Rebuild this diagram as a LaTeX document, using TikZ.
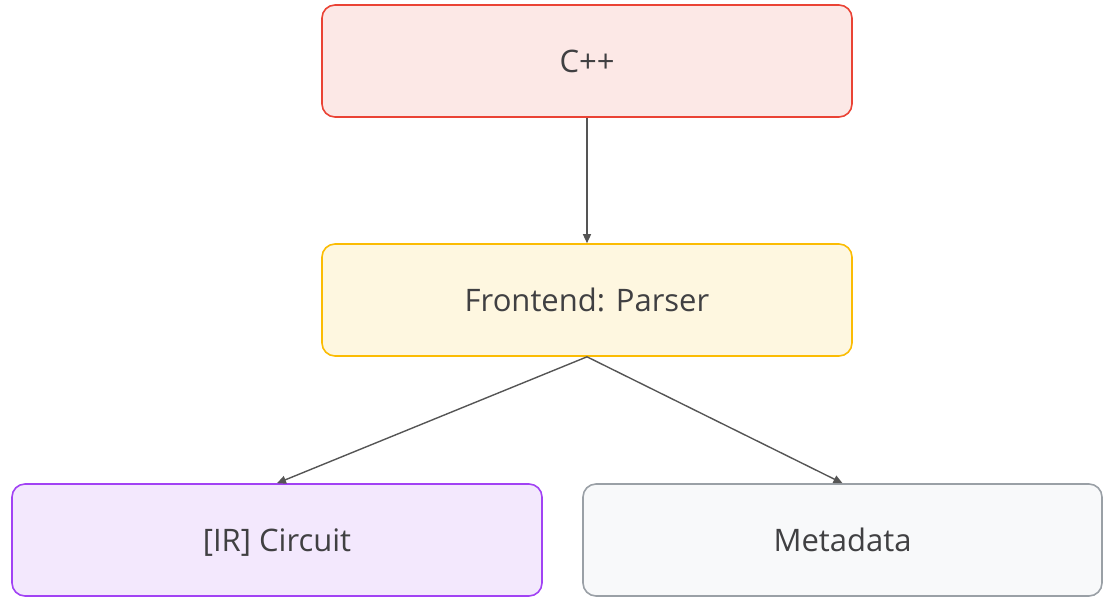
\documentclass[tikz,border=0pt]{standalone}
\usepackage{fontspec}
\setmainfont{Open Sans}
\usepackage{xcolor}
\usetikzlibrary{arrows.meta,positioning}
\definecolor{figline}{RGB}{85,85,85}
\definecolor{figtext}{RGB}{64,64,66}
\definecolor{cppdraw}{RGB}{234,67,53}
\definecolor{cppfill}{RGB}{252,232,230}
\definecolor{prsdraw}{RGB}{251,188,4}
\definecolor{prsfill}{RGB}{254,247,224}
\definecolor{irdraw}{RGB}{161,66,244}
\definecolor{irfill}{RGB}{243,232,253}
\definecolor{metadraw}{RGB}{154,160,166}
\definecolor{metafill}{RGB}{248,249,250}
\tikzset{
  blk/.style ={line width=1.6pt, rounded corners=13pt, minimum width=530pt, minimum height=112pt,
               inner sep=0pt, text height=23pt, text depth=1pt, text=figtext, font=\fontsize{31}{36}\selectfont},
  ptr/.style ={draw=figline, line width=1.4pt, -{Triangle[length=9pt,width=8pt]}},
}

\begin{document}
\begin{tikzpicture}[x=1pt,y=-1pt]
  \useasboundingbox (0,0) rectangle (1105,598);
  \node[blk,draw=cppdraw,fill=cppfill] (cpp) at (587,61) {C++};
  \node[blk,draw=prsdraw,fill=prsfill] (parser) at (587,300) {Frontend: Parser};
  \node[blk,draw=irdraw,fill=irfill] (circuit) at (277,540) {[IR] Circuit};
  \node[blk,draw=metadraw,fill=metafill,minimum width=519pt] (meta) at (842.5,540) {Metadata};
  \draw[ptr] (cpp) -- (parser);
  \draw[ptr] (parser.south) -- (circuit.north);
  \draw[ptr] (parser.south) -- (meta.north);
\end{tikzpicture}
\end{document}
